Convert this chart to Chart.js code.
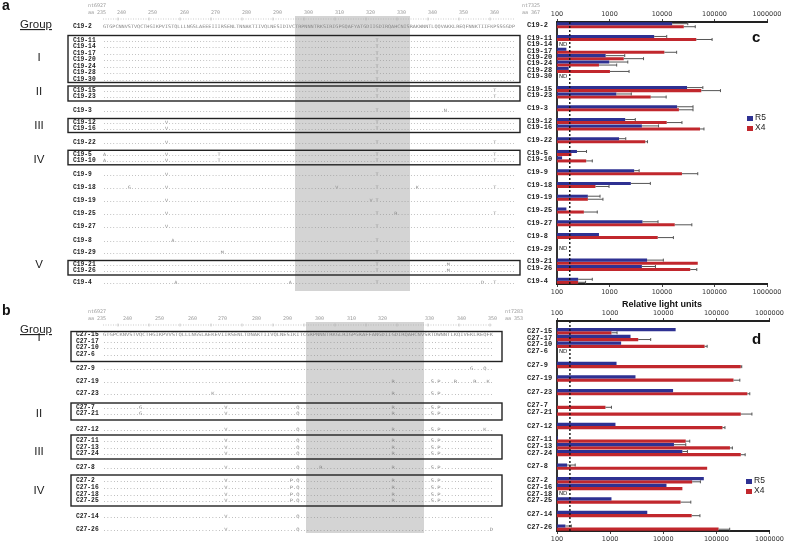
<!DOCTYPE html>
<html>
<head>
<meta charset="utf-8">
<script src="https://cdn.jsdelivr.net/npm/chart.js@4.4.1/dist/chart.umd.min.js"></script>
<style>
  body { margin: 0; width: 785px; height: 542px; position: relative; background: #fff; overflow: hidden; font-family: "Liberation Sans", Arial, sans-serif; }
  .abs { position: absolute; }
  .panel { font-weight: bold; font-size: 15px; color: #111; }
  .leg { font-size: 8.5px; color: #222; line-height: 10px; }
  .leg i { display: inline-block; width: 6px; height: 5px; margin-right: 2px; vertical-align: -0.5px; }
  #aln { opacity: 0.999; will-change: transform; }
</style>
</head>
<body>
<svg id="aln" class="abs" style="left:0;top:0" width="545" height="542"></svg>
<div class="abs" style="left:527px;top:0"><canvas id="chartC" width="258" height="310"></canvas></div>
<div class="abs" style="left:527px;top:300px"><canvas id="chartD" width="258" height="242"></canvas></div>

<div class="abs panel" style="left:752px;top:28px">c</div>
<div class="abs panel" style="left:752px;top:330px">d</div>
<div class="abs leg" style="left:747px;top:112px"><i style="background:#2e3192"></i>R5<br><i style="background:#c1272d"></i>X4</div>
<div class="abs leg" style="left:746px;top:475px"><i style="background:#2e3192"></i>R5<br><i style="background:#c1272d"></i>X4</div>

<script>
// ---- panel c data (relative light units) ----
const groupsC = [['C19-2'], ['C19-11','C19-14','C19-17','C19-20','C19-24','C19-28','C19-30'], ['C19-15','C19-23'],
  ['C19-3'], ['C19-12','C19-16'], ['C19-22'], ['C19-5','C19-10'], ['C19-9'], ['C19-18'], ['C19-19'], ['C19-25'],
  ['C19-27'], ['C19-8'], ['C19-29'], ['C19-21','C19-26'], ['C19-4']];
const r5C   = [15600, 7100, null, 151, 845, 990, 167, null, 30000, 1350, 19400, 1990, 4140, 1520, 240, 125, 2950, 2550, 387, 151, 4250, 630, null, 5200, 4140, 253];
const r5HiC = [31000, 12300, null, null, 1950, 2230, null, null, 60000, 2600, 39000, 3100, 8600, 2040, 365, null, 3670, 6000, 660, null, 8400, null, null, 10600, 7500, 470];
const x4C   = [26000, 45000, null, 11100, 1870, 630, 1020, null, 56000, 6100, 21000, 12300, 53000, 4800, 188, 360, 24000, 540, 387, 325, 17500, 8300, null, 48000, 34500, 253];
const x4HiC = [43000, 90000, null, 19000, 4450, 1370, 2360, null, 130000, 12000, 39000, 24000, 63000, 5300, null, 470, 48000, 980, 750, 585, 37000, 16500, null, null, 46000, 350];

// ---- panel d data ----
const groupsD = [['C27-15','C27-17','C27-10','C27-6'], ['C27-9'], ['C27-19'], ['C27-23'], ['C27-7','C27-21'], ['C27-12'],
  ['C27-11','C27-13','C27-24'], ['C27-8'], ['C27-2','C27-16','C27-18','C27-25'], ['C27-14'], ['C27-26']];
const r5D   = [17100, 2420, 1610, null, 1320, 3000, 15300, null, null, 1260, 104, 15900, 22900, 155, 58000, 11500, null, 1060, 5000, 144];
const r5HiD = [null, null, null, null, null, null, null, null, null, null, null, 26500, 28500, 220, null, null, null, null, null, 186];
const x4D   = [1060, 3380, 60000, null, 288000, 210000, 383000, 817, 288000, 130000, 26500, 180000, 288000, 67000, 35000, 22900, null, 21200, 34300, 110000];
const x4HiD = [1350, 5800, 67000, null, 300000, 276000, 425000, 1060, 466000, 145000, 31500, 200000, 348000, null, 50000, null, null, 33000, 49000, 178000];

const decades = [100, 1000, 10000, 100000, 1000000];
const cutoff = 175;

// ---- alignment text ----
const refA = 'GTGPCNNVSTVQCTHGIKPVISTQLLLNGSLAEEEIIIRSENLTNNAKTIIVQLNESIDIVCTRPNNNTRKSIRIGPGQAFYATGDIIGDIRQAHCNISRAKWNNTLQQVAKKLREQFNNKTIIFKPSSGGDP';
const refB = 'GTGPCKNVSTVQCTHGIKPVVSTQLLLNGSLAEKEVIIRSENLTDNAKTIIVQLNESIKITCGRPNNNTRKGLRIGPGRAFFANGDIIGDIRQAHCNVSRTDWNNTLKQIVEKLREQFK';
const mutsA = {
  'C19-11': [[88,'T']], 'C19-14': [[88,'T']], 'C19-17': [[88,'T']], 'C19-20': [[88,'T']], 'C19-24': [[88,'T']], 'C19-28': [[88,'T']], 'C19-30': [[88,'T']],
  'C19-15': [[88,'T'],[126,'T']], 'C19-23': [[88,'T'],[126,'T']], 'C19-3': [[88,'T'],[110,'N']],
  'C19-12': [[20,'V'],[88,'T']], 'C19-16': [[20,'V'],[88,'T']], 'C19-22': [[20,'V'],[88,'T'],[126,'T']],
  'C19-5': [[0,'A'],[20,'V'],[37,'T'],[88,'T'],[126,'T']], 'C19-10': [[0,'A'],[20,'V'],[37,'T'],[88,'T'],[126,'T']],
  'C19-9': [[20,'V'],[88,'T']], 'C19-18': [[8,'G'],[20,'V'],[75,'V'],[88,'T'],[101,'K'],[126,'T']],
  'C19-19': [[20,'V'],[86,'V'],[88,'T']], 'C19-25': [[20,'V'],[88,'T'],[94,'R'],[126,'T']], 'C19-27': [[20,'V'],[88,'T']],
  'C19-8': [[22,'A'],[88,'T']], 'C19-29': [[38,'M'],[88,'T']], 'C19-21': [[88,'T'],[111,'M']], 'C19-26': [[88,'T'],[111,'M']],
  'C19-4': [[23,'A'],[60,'A'],[88,'T'],[122,'D'],[126,'T']]
};
const sp = [[37,'V'],[59,'Q'],[88,'R'],[100,'S'],[102,'P']];
const mutsB = {
  'C27-17': [], 'C27-10': [], 'C27-6': [], 'C27-9': [[112,'G'],[116,'Q']],
  'C27-19': [[88,'R'],[100,'S'],[102,'P'],[107,'R'],[113,'R'],[117,'K']], 'C27-23': [[33,'K'],[88,'R'],[100,'S'],[102,'P']],
  'C27-7': [[11,'G']].concat(sp), 'C27-21': [[11,'G']].concat(sp), 'C27-12': sp.concat([[116,'K']]),
  'C27-11': sp, 'C27-13': sp, 'C27-24': sp, 'C27-8': sp.concat([[66,'R']]),
  'C27-2': sp.concat([[57,'P']]), 'C27-16': sp.concat([[57,'P']]), 'C27-18': sp.concat([[57,'P']]), 'C27-25': sp.concat([[57,'P']]),
  'C27-14': [[37,'V'],[59,'Q']], 'C27-26': [[37,'V'],[59,'Q'],[118,'D']]
};

// layout of the alignment panels (row centres, boxes)
const rowYA = { 'C19-2':26, 'C19-11':39.5, 'C19-14':46, 'C19-17':52.5, 'C19-20':59, 'C19-24':65.5, 'C19-28':72, 'C19-30':78.5,
  'C19-15':89.5, 'C19-23':96, 'C19-3':109.5, 'C19-12':121.5, 'C19-16':128, 'C19-22':141.5, 'C19-5':153.8, 'C19-10':160.3,
  'C19-9':174.4, 'C19-18':187.2, 'C19-19':200.3, 'C19-25':213.4, 'C19-27':226.4, 'C19-8':239.7, 'C19-29':252.4,
  'C19-21':264, 'C19-26':270.3, 'C19-4':282.2 };
const rowYB = { 'C27-15':334, 'C27-17':340.7, 'C27-10':347.3, 'C27-6':354, 'C27-9':367.7, 'C27-19':380.7, 'C27-23':393.3,
  'C27-7':407.3, 'C27-21':413.3, 'C27-12':428.8, 'C27-11':440, 'C27-13':446.7, 'C27-24':453, 'C27-8':466.7,
  'C27-2':480.4, 'C27-16':487, 'C27-18':493.5, 'C27-25':500, 'C27-14':516, 'C27-26':529.3 };

const NS = 'http://www.w3.org/2000/svg';
const svg = document.getElementById('aln');
function el(tag, attrs, text) {
  const e = document.createElementNS(NS, tag);
  for (const k in attrs) e.setAttribute(k, attrs[k]);
  if (text != null) e.textContent = text;
  svg.appendChild(e);
  return e;
}
function line(len, muts) {
  const a = Array(len).fill('.');
  muts.forEach(([i, c]) => { a[i] = c; });
  return a.join('');
}

function drawAlignment(o) {
  el('rect', { x: o.gray[0], y: o.gray[1], width: o.gray[2], height: o.gray[3], fill: '#d4d4d4' });
  el('text', { x: 2, y: o.top + 10, 'font-size': 14, 'font-weight': 'bold', 'font-family': 'Liberation Sans', fill: '#111' }, o.letter);
  el('text', { x: 20, y: o.top + 28, 'font-size': 11.5, 'font-family': 'Liberation Sans', 'text-decoration': 'underline', fill: '#222' }, 'Group');
  o.romans.forEach(([t, y]) => el('text', { x: 39, y: y + 4, 'font-size': 11.5, 'text-anchor': 'middle', 'font-family': 'Liberation Sans', fill: '#222' }, t));
  // header
  const hf = { 'font-size': 5, 'font-family': 'DejaVu Sans Mono', fill: '#999' };
  el('text', Object.assign({ x: 88, y: o.hy - 7 }, hf), 'nt6927');
  el('text', Object.assign({ x: 88, y: o.hy }, hf), 'aa 235');
  el('text', Object.assign({ x: o.endX, y: o.hy - 7 }, hf), o.endNt);
  el('text', Object.assign({ x: o.endX, y: o.hy }, hf), o.endAa);
  o.nums.forEach(([n, x]) => el('text', Object.assign({ x: x, y: o.hy }, hf), String(n)));
  el('line', { x1: o.x0, x2: o.x0 + o.w, y1: o.hy + 5, y2: o.hy + 5, stroke: '#aaa', 'stroke-width': 0.6, 'stroke-dasharray': '1 1.5' });
  for (let x = o.x0 + 15; x < o.x0 + o.w; x += 31) {
    el('line', { x1: x, x2: x, y1: o.hy + 3.5, y2: o.hy + 6.5, stroke: '#aaa', 'stroke-width': 0.6 });
  }
  // boxes
  o.boxes.forEach(([y1, y2]) => el('rect', { x: o.bx[0], y: y1, width: o.bx[1] - o.bx[0], height: y2 - y1, fill: 'none', stroke: '#222', 'stroke-width': 1.4 }));
  // rows
  Object.keys(o.rows).forEach(name => {
    const y = o.rows[name] + 2;
    el('text', { x: o.lx, y: y, 'font-size': 6.3, 'font-weight': 'bold', 'font-family': 'Liberation Mono', fill: '#222' }, name);
    const s = o.muts[name] ? line(o.ref.length, o.muts[name]) : o.ref;
    el('text', { x: o.x0, y: y, 'font-size': 4.6, 'font-family': 'DejaVu Sans Mono', fill: '#888',
      textLength: o.w, lengthAdjust: 'spacingAndGlyphs' }, s);
  });
}

drawAlignment({ letter: 'a', top: 0, hy: 14, x0: 103, w: 412, ref: refA, muts: mutsA, rows: rowYA, lx: 73,
  gray: [295, 16, 115, 275], bx: [68, 520], endX: 522, endNt: 'nt7325', endAa: 'aa 367',
  boxes: [[35.5, 82.5], [86, 101], [118.5, 132.5], [150.3, 164.8], [260.5, 275]],
  romans: [['I', 57], ['II', 91], ['III', 125], ['IV', 159], ['V', 264]],
  nums: [[240,117],[250,148],[260,180],[270,211],[280,242],[290,273],[300,304],[310,335],[320,366],[330,397],[340,428],[350,459],[360,490]] });
drawAlignment({ letter: 'b', top: 305, hy: 320, x0: 103, w: 390, ref: refB, muts: mutsB, rows: rowYB, lx: 76,
  gray: [306, 322, 118, 211], bx: [71, 502], endX: 505, endNt: 'nt7283', endAa: 'aa 353',
  boxes: [[331.5, 361.5], [403, 420], [435, 459], [475, 506]],
  romans: [['I', 337], ['II', 413], ['III', 450.5], ['IV', 490]],
  nums: [[240,123],[250,155],[260,188],[270,218],[280,252],[290,283],[300,315],[310,347],[320,378],[330,425],[340,457],[350,488]] });

// ---- charts ----
function slots(groups, lead) {
  const out = lead ? [''] : [];
  groups.forEach((g, i) => { if (i) out.push(''); out.push(...g); });
  return out;
}
function spread(labels, clones, vals) {
  return labels.map(l => (l ? vals[clones.indexOf(l)] : null));
}

const extras = {
  id: 'extras',
  afterDatasetsDraw(chart, args, opts) {
    const { ctx, chartArea, scales } = chart;
    const x = scales.x, y = scales.y;
    ctx.save();
    chart.data.datasets.forEach((ds, di) => {
      const meta = chart.getDatasetMeta(di);
      meta.data.forEach((bar, i) => {
        const v = ds.data[i], hi = ds.errHi[i];
        if (v == null || hi == null || hi <= v) return;
        const x0 = x.getPixelForValue(v), x1 = x.getPixelForValue(hi);
        ctx.strokeStyle = '#555';
        ctx.lineWidth = 1;
        ctx.beginPath();
        ctx.moveTo(x0, bar.y); ctx.lineTo(x1, bar.y);
        ctx.moveTo(x1, bar.y - 1.5); ctx.lineTo(x1, bar.y + 1.5);
        ctx.stroke();
      });
    });
    const cx = x.getPixelForValue(opts.cutoff);
    ctx.strokeStyle = '#111';
    ctx.lineWidth = 1.4;
    ctx.setLineDash([2, 2]);
    ctx.beginPath();
    ctx.moveTo(cx, chartArea.top); ctx.lineTo(cx, chartArea.bottom);
    ctx.stroke();
    ctx.setLineDash([]);
    ctx.fillStyle = '#222';
    ctx.font = '5.5px "DejaVu Sans"';
    ctx.textBaseline = 'middle';
    opts.nd.forEach(lbl => {
      const idx = chart.data.labels.indexOf(lbl);
      ctx.fillText('ND', chartArea.left + 2, y.getPixelForValue(idx));
    });
    ctx.restore();
  }
};

function logAxis(pos, h, title) {
  return {
    type: 'logarithmic', position: pos, min: 100, max: 1000000,
    afterBuildTicks: s => { s.ticks = decades.map(v => ({ value: v })); },
    afterFit: s => { s.height = h; },
    ticks: { callback: v => String(v), color: '#333', font: { size: 6.5, family: 'DejaVu Sans' }, padding: 1, maxRotation: 0 },
    grid: { display: true, drawOnChartArea: false, tickLength: 3, color: '#444' },
    border: { display: true, color: '#222', width: 2 },
    title: title ? { display: true, text: title, color: '#111', font: { size: 9, weight: 'bold', family: 'Liberation Sans' }, padding: 0 } : { display: false }
  };
}

function makeChart(id, groups, lead, r5, r5Hi, x4, x4Hi, topH, botH, padR, title) {
  const clones = groups.flat();
  const labels = slots(groups, lead);
  const nd = clones.filter((c, i) => r5[i] == null && x4[i] == null);
  return new Chart(document.getElementById(id), {
    type: 'bar',
    data: {
      labels: labels,
      datasets: [
        { label: 'R5', data: spread(labels, clones, r5), errHi: spread(labels, clones, r5Hi), backgroundColor: '#2e3192', xAxisID: 'x' },
        { label: 'X4', data: spread(labels, clones, x4), errHi: spread(labels, clones, x4Hi), backgroundColor: '#c1272d', xAxisID: 'x' }
      ]
    },
    options: {
      indexAxis: 'y', responsive: false, animation: false,
      layout: { padding: { right: padR, left: 0, top: 0, bottom: 0 } },
      datasets: { bar: { categoryPercentage: 0.95, barPercentage: 1 } },
      plugins: { legend: { display: false }, tooltip: { enabled: false }, extras: { cutoff: cutoff, nd: nd } },
      scales: {
        y: {
          type: 'category', offset: true,
          afterFit: s => { s.width = 30; },
          ticks: { autoSkip: false, crossAlign: 'far', padding: 0, color: '#222', font: { size: 7, weight: 'bold', family: 'Liberation Mono' } },
          grid: { display: false },
          border: { display: true, color: '#333', width: 2 }
        },
        x: logAxis('bottom', botH, title),
        x2: logAxis('top', topH, null)
      }
    },
    plugins: [extras]
  });
}

makeChart('chartC', groupsC, false, r5C, r5HiC, x4C, x4HiC, 22, 26, 18, 'Relative light units');
makeChart('chartD', groupsD, true, r5D, r5HiD, x4D, x4HiD, 21, 11, 15, null);
</script>
</body>
</html>
